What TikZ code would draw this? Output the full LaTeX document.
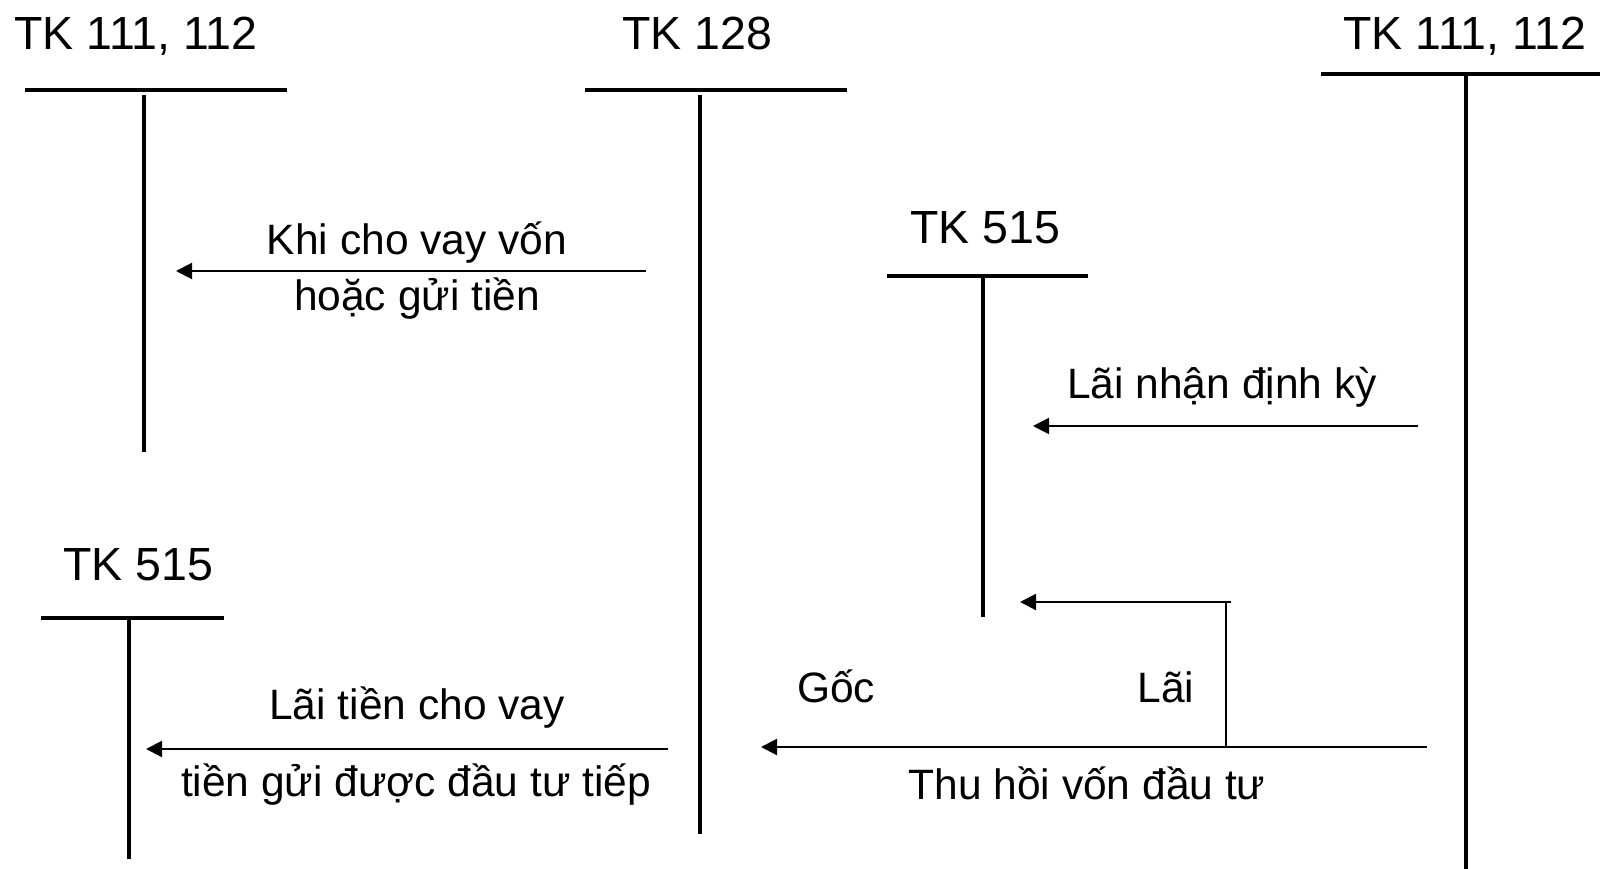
\documentclass[tikz,border=0pt]{standalone}
\usepackage{fontspec}
\setmainfont{Liberation Sans}
\usetikzlibrary{arrows.meta}
\begin{document}
\begin{tikzpicture}[x=1pt,y=-1pt,
  title/.style={anchor=base,inner sep=0pt,font=\fontsize{46.5}{50}\selectfont},
  lbl/.style={anchor=base,inner sep=0pt,font=\fontsize{42.5}{46}\selectfont},
  acct/.style={line width=3.1pt},
  flow/.style={line width=2.1pt,-{Triangle[length=16pt,width=16pt]}},
  plain/.style={line width=2.1pt}]
\useasboundingbox (0,0) rectangle (1600,869);

% account titles
\node[title] (t1) at (136,50) {TK 111, 112};
\node[title] (t2) at (697,50) {TK 128};
\node[title] (t3) at (1465,50) {TK 111, 112};
\node[title] (t4) at (985,243) {TK 515};
\node[title] (t5) at (138,580) {TK 515};

% T-account frames
\coordinate (a1l) at (25,90);   \coordinate (a1r) at (287,90);
\coordinate (a1t) at (144,95);  \coordinate (a1b) at (144,452);
\coordinate (a2l) at (585,90);  \coordinate (a2r) at (847,90);
\coordinate (a2t) at (700,95);  \coordinate (a2b) at (700,834);
\coordinate (a3l) at (1321,74); \coordinate (a3r) at (1600,74);
\coordinate (a3t) at (1466,74); \coordinate (a3b) at (1466,869);
\coordinate (a4l) at (887,276); \coordinate (a4r) at (1088,276);
\coordinate (a4t) at (983,276); \coordinate (a4b) at (983,617);
\coordinate (a5l) at (41,618);  \coordinate (a5r) at (224,618);
\coordinate (a5t) at (129,618); \coordinate (a5b) at (129,859);

\foreach \a in {a1,a2,a3,a4,a5}{
  \draw[acct] (\a l) -- (\a r);
  \draw[acct] (\a t) -- (\a b);
}

% lending / deposit
\coordinate (f1s) at (646,271); \coordinate (f1e) at (176,271);
\draw[flow] (f1s) -- (f1e);
\node[lbl] (l1a) at (417,254) {Khi cho vay vốn};
\node[lbl] (l1b) at (417,310) {hoặc gửi tiền};

% periodic interest
\coordinate (f2s) at (1418,426); \coordinate (f2e) at (1033,426);
\draw[flow] (f2s) -- (f2e);
\node[lbl] (l2) at (1222,398) {Lãi nhận định kỳ};

% recovery of principal and interest
\coordinate (f3s) at (1427,747); \coordinate (f3e) at (761,747);
\draw[flow] (f3s) -- (f3e);
\coordinate (f4b) at (1226,747); \coordinate (f4t) at (1226,602);
\coordinate (f4s) at (1231,602); \coordinate (f4e) at (1020,602);
\draw[plain] (f4b) -- (f4t);
\draw[flow] (f4s) -- (f4e);
\node[lbl] (l3a) at (836,702) {Gốc};
\node[lbl] (l3b) at (1166,702) {Lãi};
\node[lbl] (l3c) at (1087,799) {Thu hồi vốn đầu tư};

% reinvested interest
\coordinate (f5s) at (668,749); \coordinate (f5e) at (146,749);
\draw[flow] (f5s) -- (f5e);
\node[lbl] (l5a) at (417,719) {Lãi tiền cho vay};
\node[lbl] (l5b) at (416,796) {tiền gửi được đầu tư tiếp};
\end{tikzpicture}
\end{document}
